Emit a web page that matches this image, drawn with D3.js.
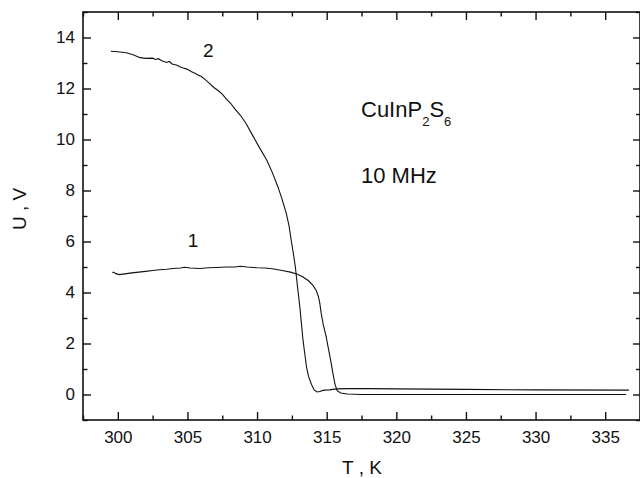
<!DOCTYPE html>
<html>
<head>
<meta charset="utf-8">
<script src="https://cdn.jsdelivr.net/npm/d3@7"></script>
<style>
  body { margin: 0; background: #fff; }
  text { font-family: Arial, "Liberation Sans", sans-serif; fill: #111; }
</style>
</head>
<body>
<div id="chart"></div>
<script>
// curve 1
const temp1 = [299.6, 299.7, 299.85, 300.1, 300.5, 301.0, 301.5, 302.0, 302.5, 303.0, 303.5, 304.0, 304.5, 304.8,
  305.2, 305.9, 306.5, 307.1, 307.8, 308.4, 308.8, 309.3, 310.0, 310.6, 311.2, 311.8, 312.4, 312.9, 313.3,
  313.7, 314.0, 314.25, 314.4, 314.5, 314.6, 314.75, 314.95, 315.1, 315.3, 315.45, 315.6, 315.75, 316.0,
  316.5, 317.5, 320, 325, 330, 336.5];
const volt1 = [4.77, 4.80, 4.74, 4.70, 4.73, 4.77, 4.80, 4.83, 4.86, 4.89, 4.91, 4.94, 4.96, 4.99,
  4.96, 4.94, 4.97, 4.98, 5.00, 5.00, 5.03, 5.00, 4.97, 4.96, 4.92, 4.86, 4.80, 4.72, 4.61,
  4.46, 4.29, 4.08, 3.85, 3.60, 3.20, 2.75, 2.30, 1.87, 1.30, 0.82, 0.40, 0.15, 0.06,
  0.02, 0.0, 0.0, 0.0, 0.0, 0.0];

// curve 2
const temp2 = [299.5, 300.0, 300.6, 301.1, 301.6, 302.0, 302.5, 302.7, 302.9, 303.2, 303.5, 303.7, 303.9,
  304.2, 304.5, 304.7, 305.0, 305.3, 305.5, 305.8, 306.0, 306.3, 306.6, 306.9, 307.2, 307.5, 307.8,
  308.1, 308.4, 308.8, 309.2, 309.6, 310.1, 310.7, 311.1, 311.5, 311.8, 312.1, 312.3, 312.45, 312.6,
  312.75, 312.9, 313.07, 313.2, 313.3, 313.45, 313.55, 313.7, 313.9, 314.1, 314.3, 314.5, 314.8,
  315.2, 315.7, 316.5, 318, 320, 325, 330, 336.7];
const volt2 = [13.46, 13.44, 13.40, 13.32, 13.21, 13.18, 13.19, 13.14, 13.17, 13.08, 13.02, 13.06, 12.96,
  12.92, 12.84, 12.80, 12.75, 12.66, 12.61, 12.52, 12.47, 12.34, 12.19, 12.04, 11.92, 11.78, 11.58,
  11.42, 11.20, 10.95, 10.64, 10.24, 9.75, 9.19, 8.70, 8.14, 7.65, 7.10, 6.60, 6.05, 5.55,
  5.00, 4.25, 3.44, 2.70, 2.13, 1.50, 1.08, 0.70, 0.40, 0.18, 0.10, 0.12, 0.17,
  0.18, 0.22, 0.23, 0.23, 0.22, 0.20, 0.18, 0.17];

const xMajor = [300, 305, 310, 315, 320, 325, 330, 335];
const xMinor = [297.5, 302.5, 307.5, 312.5, 317.5, 322.5, 327.5, 332.5, 337.5];
const yMajor = [0, 2, 4, 6, 8, 10, 12, 14];
const yMinor = [-1, 1, 3, 5, 7, 9, 11, 13, 15];

const width = 640, height = 478;
const margin = { left: 83, right: 0, top: 12, bottom: 58 };

const svg = d3.select("#chart")
  .append("svg")
  .attr("width", width)
  .attr("height", height);

const x = d3.scaleLinear().domain([297.5, 337.5]).range([margin.left, width - margin.right]);
const y = d3.scaleLinear().domain([-1, 15]).range([height - margin.bottom, margin.top]);

function styleAxis(g) {
  g.select(".domain").remove();
  g.selectAll("line").attr("stroke", "#111").attr("stroke-width", 1.4);
  g.selectAll("text").attr("font-size", 17).attr("fill", "#111");
}

// bottom
svg.append("g")
  .attr("transform", `translate(0,${y(-1)})`)
  .call(d3.axisBottom(x).tickValues(xMajor).tickSize(-8).tickPadding(11).tickFormat(d3.format("d")))
  .call(styleAxis);
svg.append("g")
  .attr("transform", `translate(0,${y(-1)})`)
  .call(d3.axisBottom(x).tickValues(xMinor).tickSize(-4.5).tickFormat(""))
  .call(styleAxis);

// top
svg.append("g")
  .attr("transform", `translate(0,${y(15)})`)
  .call(d3.axisTop(x).tickValues(xMajor).tickSize(-8).tickFormat(""))
  .call(styleAxis);
svg.append("g")
  .attr("transform", `translate(0,${y(15)})`)
  .call(d3.axisTop(x).tickValues(xMinor).tickSize(-4.5).tickFormat(""))
  .call(styleAxis);

// left
svg.append("g")
  .attr("transform", `translate(${x(297.5)},0)`)
  .call(d3.axisLeft(y).tickValues(yMajor).tickSize(-8).tickPadding(8).tickFormat(d3.format("d")))
  .call(styleAxis);
svg.append("g")
  .attr("transform", `translate(${x(297.5)},0)`)
  .call(d3.axisLeft(y).tickValues(yMinor).tickSize(-4.5).tickFormat(""))
  .call(styleAxis);

// right
svg.append("g")
  .attr("transform", `translate(${x(337.5)},0)`)
  .call(d3.axisRight(y).tickValues(yMajor).tickSize(-7).tickFormat(""))
  .call(styleAxis);
svg.append("g")
  .attr("transform", `translate(${x(337.5)},0)`)
  .call(d3.axisRight(y).tickValues(yMinor).tickSize(-4).tickFormat(""))
  .call(styleAxis);

// frame
svg.append("rect")
  .attr("x", x(297.5))
  .attr("y", y(15))
  .attr("width", x(337.5) - x(297.5))
  .attr("height", y(-1) - y(15))
  .attr("fill", "none")
  .attr("stroke", "#111")
  .attr("stroke-width", 1.6);

const line = d3.line()
  .x(d => x(d[0]))
  .y(d => y(d[1]));

svg.append("path")
  .datum(d3.zip(temp1, volt1))
  .attr("d", line)
  .attr("fill", "none")
  .attr("stroke", "#111")
  .attr("stroke-width", 1.1);

svg.append("path")
  .datum(d3.zip(temp2, volt2))
  .attr("d", line)
  .attr("fill", "none")
  .attr("stroke", "#111")
  .attr("stroke-width", 1.1);

// curve labels
svg.append("text").attr("x", x(305.4)).attr("y", y(5.78))
  .attr("text-anchor", "middle").attr("font-size", 19).text("1");
svg.append("text").attr("x", x(306.5)).attr("y", y(13.23))
  .attr("text-anchor", "middle").attr("font-size", 19).text("2");

// annotation
const formula = svg.append("text").attr("x", 361).attr("y", 117).attr("font-size", 22);
formula.append("tspan").text("CuInP");
formula.append("tspan").attr("font-size", 13).attr("dy", 9).text("2");
formula.append("tspan").attr("dy", -9).text("S");
formula.append("tspan").attr("font-size", 13).attr("dy", 9).text("6");

svg.append("text").attr("x", 361).attr("y", 183).attr("font-size", 22).text("10 MHz");

// axis titles
svg.append("text")
  .attr("x", 362).attr("y", 474)
  .attr("text-anchor", "middle").attr("font-size", 19)
  .text("T , K");

svg.append("text")
  .attr("transform", "translate(26,209) rotate(-90)")
  .attr("text-anchor", "middle").attr("font-size", 19)
  .text("U , V");
</script>
</body>
</html>
